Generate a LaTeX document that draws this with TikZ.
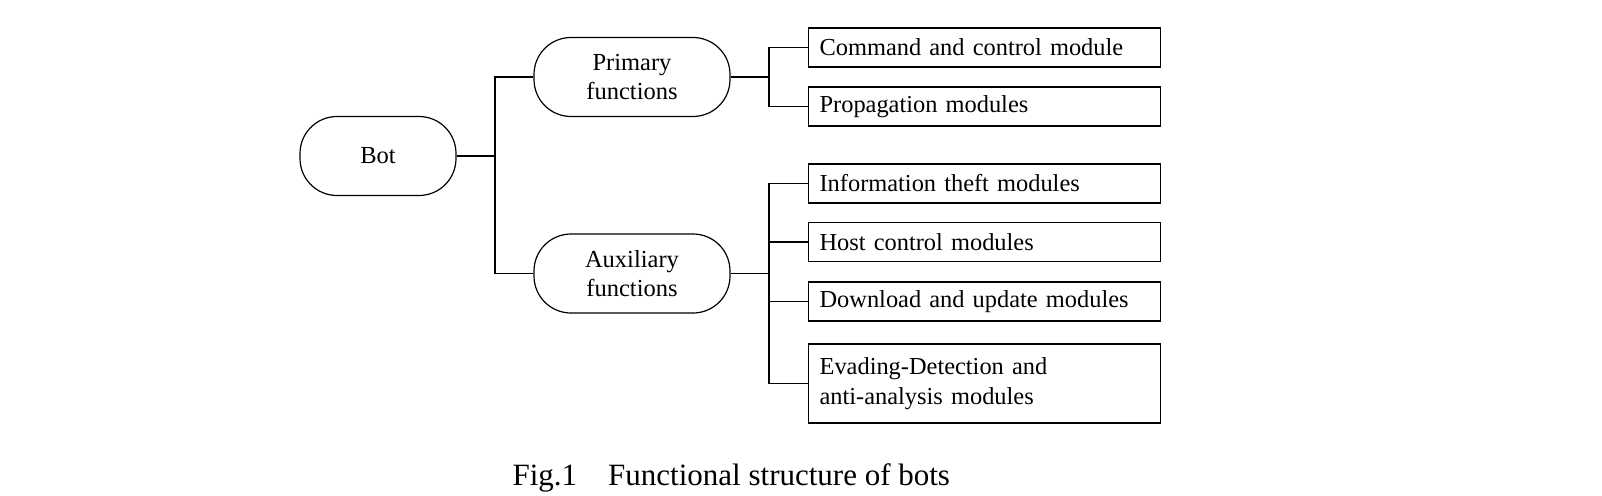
\documentclass[tikz,border=0pt]{standalone}
\usepackage{fontspec}
\setmainfont{Liberation Serif}
\begin{document}
\begin{tikzpicture}[x=1pt,y=-1pt,line width=1.2pt,
  stadium/.style={draw,rectangle,rounded corners=37pt,minimum height=79pt,inner sep=0pt,align=center,font=\fontsize{24.5}{29.5}\selectfont},
  modbox/.style={draw,rectangle,anchor=west,minimum width=352pt,minimum height=39pt,inner xsep=11pt,inner ysep=0pt,text width=330pt,align=left,font=\fontsize{24.4}{30}\selectfont},
  link/.style={line width=1.2pt}]
\useasboundingbox (0,0) rectangle (1602,495);
\node[stadium,minimum width=156pt] (bot) at (378,156) {Bot};
\node[stadium,minimum width=196pt] (prim) at (632,77) {Primary\\functions};
\node[stadium,minimum width=196pt] (aux) at (632,273.5) {Auxiliary\\functions};
\node[modbox] (m1) at (808,47.5) {Command and control module};
\node[modbox] (m2) at (808,106.5) {Propagation modules};
\node[modbox] (m3) at (808,183.5) {Information theft modules};
\node[modbox] (m4) at (808,242) {Host control modules};
\node[modbox] (m5) at (808,301.5) {Download and update modules};
\node[modbox,minimum height=79pt] (m6) at (808,383.5) {Evading-Detection and\\anti-analysis modules};
\coordinate (t0) at (495,156);
\coordinate (t1) at (769,77);
\coordinate (t2) at (769,273.5);
\draw[link] (bot.east) -- (t0);
\draw[link] (t0) |- (prim.west);
\draw[link] (t0) |- (aux.west);
\draw[link] (prim.east) -- (t1);
\draw[link] (t1) |- (m1.west);
\draw[link] (t1) |- (m2.west);
\draw[link] (aux.east) -- (t2);
\draw[link] (t2) |- (m3.west);
\draw[link] (t2) |- (m4.west);
\draw[link] (t2) |- (m5.west);
\draw[link] (t2) |- (m6.west);
\node[anchor=base west,inner sep=0pt,font=\fontsize{31}{35}\selectfont] (cap) at (512,485) {Fig.1\hspace*{31pt}Functional structure of bots};
\end{tikzpicture}
\end{document}
